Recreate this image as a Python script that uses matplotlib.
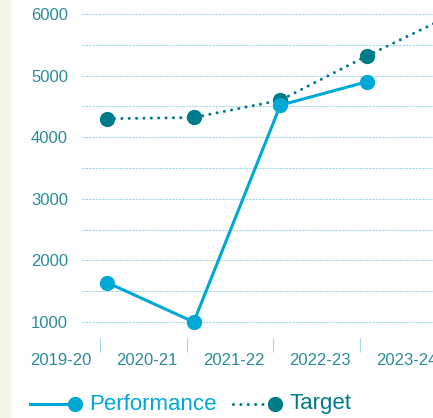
import matplotlib.pyplot as plt
import numpy as np
from matplotlib.lines import Line2D

plt.rcParams["font.family"] = ["Liberation Sans", "DejaVu Sans"]

# data
periods = ["2019-20", "2020-21", "2021-22", "2022-23", "2023-24"]
performance = [1640, 1000, 4520, 4900, np.nan]
target = [4300, 4320, 4600, 5320, 6000]
y_ticks = [1000, 2000, 3000, 4000, 5000, 6000]

PERF_COLOR = "#00a8d6"
TARGET_COLOR = "#007b89"
LABEL_COLOR = "#2a8c98"
GRID_COLOR = "#9fd7ec"

W, H = 433, 418
fig = plt.figure(figsize=(W / 100, H / 100), dpi=100)

# pale strip on the left edge
fig.patches.append(plt.Rectangle((0, 0), 10 / W, 1, transform=fig.transFigure,
                                 color="#f3f6ea", zorder=0))

ax = fig.add_axes([82 / W, 1 - 338 / H, 408 / W, 324 / H])
ax.set_facecolor("none")

# each point sits just after the end of its period band
x = np.arange(1, len(periods) + 1) + 0.08
ax.plot(x, target, color=TARGET_COLOR, lw=2.2, linestyle=(0, (0.01, 2.4)),
        dash_capstyle="round", marker="o", ms=10, clip_on=False, zorder=3)
ax.plot(x, performance, color=PERF_COLOR, lw=2.2, marker="o", ms=10,
        clip_on=False, zorder=4)

ax.set_xlim(0.79, 5.5)
ax.set_ylim(740, 6000)

ax.set_yticks(y_ticks)
ax.set_yticks(np.array(y_ticks[:-1]) + 500, minor=True)
ax.grid(True, axis="y", which="both", color=GRID_COLOR, lw=0.8,
        linestyle=(0, (2, 1)))
ax.tick_params(axis="y", which="both", length=0, pad=10, labelsize=12,
               labelcolor=LABEL_COLOR)

ax.set_xticks(np.arange(1, len(periods)))
ax.set_xticklabels([])
ax.tick_params(axis="x", length=10, width=0.8, color=GRID_COLOR, direction="out")
for i, p in enumerate(periods):
    ax.text(i + 0.54, -0.068, p, transform=ax.get_xaxis_transform(),
            ha="center", va="center", fontsize=12, color=LABEL_COLOR,
            clip_on=False)

for s in ax.spines.values():
    s.set_visible(False)


# legend drawn by hand so the marker sits at the right end of the line
def legend_item(x0, x1, ypx, color, style, label, text_color):
    fy = 1 - ypx / H
    fig.add_artist(Line2D([x0 / W, x1 / W], [fy, fy], color=color, lw=2.2,
                          linestyle=style, dash_capstyle="round",
                          transform=fig.transFigure))
    fig.add_artist(Line2D([x1 / W], [fy], color=color, marker="o", ms=10,
                          transform=fig.transFigure))
    fig.text((x1 + 14) / W, fy, label, fontsize=16, color=text_color,
             va="center", ha="left")


legend_item(30, 75, 404, PERF_COLOR, "-", "Performance", PERF_COLOR)
legend_item(233, 275, 404, TARGET_COLOR, (0, (0.01, 2.4)), "Target", TARGET_COLOR)

fig.savefig("out.png", dpi=100)
